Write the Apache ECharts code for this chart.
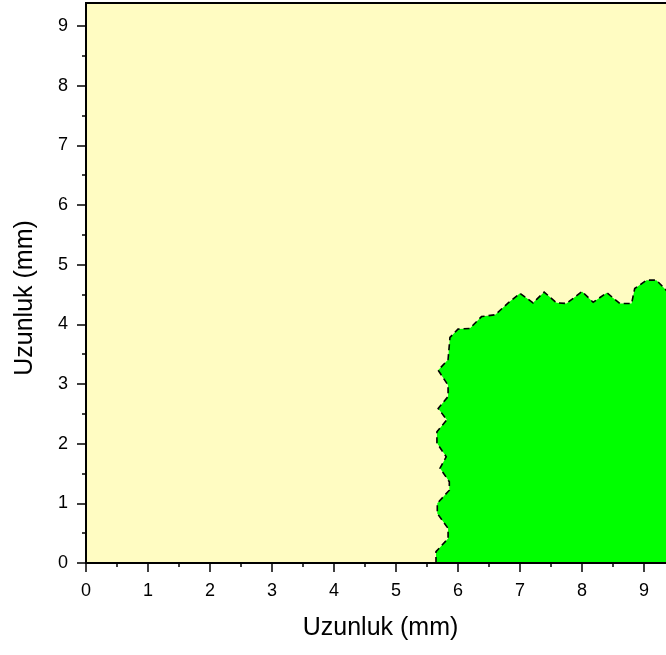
<!DOCTYPE html>
<html>
<head>
<meta charset="utf-8">
<script src="https://cdn.jsdelivr.net/npm/echarts@6/dist/echarts.min.js"></script>
<style>html,body{margin:0;padding:0;background:#fff;}#c{width:666px;height:655px;}</style>
</head>
<body>
<div id="c"></div>
<script>
// Boundary of the green region (mm)
const boundaryX = [5.645,5.645,5.84,5.84,5.666,5.666,5.86,5.86,5.71,5.81,5.66,5.66,5.82,5.68,5.84,5.84,5.68,5.84,5.87,6.00,6.19,6.38,6.60,6.81,7.00,7.21,7.39,7.59,7.75,8.00,8.18,8.40,8.61,8.80,8.85,9.04,9.20,9.35,9.60];
const boundaryY = [0,0.19,0.41,0.58,0.83,1.00,1.22,1.36,1.59,1.78,2.01,2.20,2.40,2.59,2.79,2.98,3.23,3.41,3.78,3.92,3.93,4.13,4.16,4.36,4.52,4.36,4.54,4.36,4.35,4.55,4.37,4.53,4.35,4.35,4.60,4.74,4.74,4.58,4.30];
const closeX = [9.60];
const closeY = [0];
const majorTicks = [0,1,2,3,4,5,6,7,8,9];
const minorTicks = [0.5,1.5,2.5,3.5,4.5,5.5,6.5,7.5,8.5];
const axisTitle = 'Uzunluk (mm)';

const chart = echarts.init(document.getElementById('c'));
const font = 'Liberation Sans, Arial, sans-serif';
const yMax = 9.385;
const xMax = 9.5;

function yAxisBase(extra) {
  return Object.assign({
    type: 'value', min: 0, max: yMax, position: 'left', gridIndex: 0,
    splitLine: { show: false }, z: 10
  }, extra);
}

chart.setOption({
  animation: false,
  grid: {
    left: 86, top: 3, width: 589, height: 560,
    outerBoundsMode: 'none', containLabel: false,
    show: true, backgroundColor: '#FFFCC2', borderColor: '#000', borderWidth: 2
  },
  xAxis: [{
    type: 'value', min: 0, max: xMax, interval: 1, z: 10,
    axisLine: { onZero: false, lineStyle: { color: '#000', width: 2 } },
    axisTick: { inside: false, length: 9, lineStyle: { color: '#000', width: 1.5 } },
    minorTick: { show: true, splitNumber: 2, length: 4, lineStyle: { color: '#000', width: 1.5 } },
    axisLabel: { color: '#000', fontSize: 18, fontFamily: font, margin: 19, showMaxLabel: false },
    splitLine: { show: false }, minorSplitLine: { show: false },
    name: axisTitle, nameLocation: 'middle', nameGap: 53,
    nameTextStyle: { color: '#000', fontSize: 25, fontFamily: font, verticalAlign: 'top' }
  }],
  yAxis: [
    yAxisBase({
      axisLine: { onZero: false, lineStyle: { color: '#000', width: 2 } },
      axisTick: { inside: false, length: 9, customValues: majorTicks, lineStyle: { color: '#000', width: 1.5 } },
      axisLabel: { color: '#000', fontSize: 18, fontFamily: font, margin: 18, customValues: majorTicks },
      name: axisTitle, nameLocation: 'middle', nameGap: 48,
      nameTextStyle: { color: '#000', fontSize: 25, fontFamily: font, padding: [0, 30, 0, 0] }
    }),
    yAxisBase({
      axisLine: { show: false },
      axisTick: { inside: false, length: 4, customValues: minorTicks, lineStyle: { color: '#000', width: 1.5 } },
      axisLabel: { show: false }
    })
  ],
  series: [{
    type: 'custom',
    coordinateSystem: 'cartesian2d',
    xAxisIndex: 0, yAxisIndex: 0,
    data: [[boundaryX[0], boundaryY[0]]],
    renderItem: function (params, api) {
      const line = boundaryX.map((x, i) => api.coord([x, boundaryY[i]]));
      const poly = line.concat(closeX.map((x, i) => api.coord([x, closeY[i]])));
      return {
        type: 'group',
        children: [
          { type: 'polygon', shape: { points: poly }, style: { fill: '#00FF00', stroke: null } },
          { type: 'polyline', shape: { points: line }, style: { fill: null, stroke: '#000', lineWidth: 1.6, lineDash: [6, 4] } }
        ]
      };
    }
  }]
});
</script>
</body>
</html>
